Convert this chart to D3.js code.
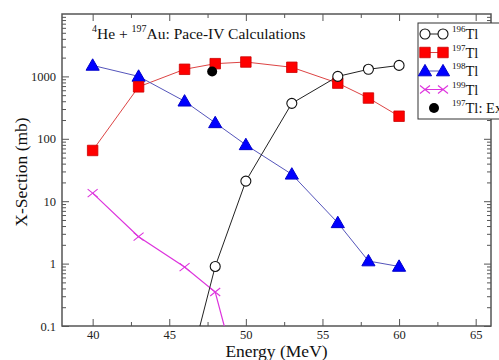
<!DOCTYPE html>
<html><head><meta charset="utf-8">
<script src="https://cdn.jsdelivr.net/npm/d3@7"></script>
<style>body{margin:0;background:#fff}svg{display:block}text{font-family:"Liberation Serif","DejaVu Serif",serif}</style>
</head><body><svg id="c" width="499" height="360"></svg>
<script>
const energies = [40, 43, 46, 48, 50, 53, 56, 58, 60];
const tl196E = [46, 48, 50, 53, 56, 58, 60];
const tl196 = [0.011, 0.9, 21, 370, 1000, 1300, 1500];
const tl197 = [65, 680, 1300, 1600, 1700, 1400, 780, 450, 230];
const tl198 = [1500, 1000, 400, 180, 80, 27, 4.5, 1.1, 0.9];
const tl199E = [40, 43, 46, 48, 50];
const tl199 = [13.5, 2.7, 0.88, 0.35, 0.005];
const expE = [47.8];
const exp197 = [1200];
const xTicks = [40, 45, 50, 55, 60, 65];
const yTicks = [0.1, 1, 10, 100, 1000];

const svg = d3.select("#c");
const L = 62, R = 491, T = 14, B = 326;
const x = d3.scaleLinear().domain([38, 66]).range([L, R]);
const y = d3.scaleLog().domain([0.1, 10000]).range([B, T]);
const axisCol = "#555";
const serif = "Liberation Serif, DejaVu Serif, serif";

svg.append("defs").append("clipPath").attr("id", "pc")
  .append("rect").attr("x", L).attr("y", T).attr("width", R - L).attr("height", B - T);

const minorX = [42.5, 47.5, 52.5, 57.5, 62.5];
const minorY = [];
for (let d = 0.1; d < 10000; d *= 10) for (let k = 2; k <= 9; k++) minorY.push(+(d * k).toPrecision(3));

const g = svg.append("g");
g.append("g").attr("transform", `translate(0,${B})`)
  .call(d3.axisBottom(x).tickValues(xTicks).tickSize(-7).tickPadding(4).tickFormat(d3.format("d")));
g.append("g").attr("transform", `translate(0,${T})`)
  .call(d3.axisTop(x).tickValues(xTicks).tickSize(-7).tickFormat(""));
g.append("g").attr("transform", `translate(0,${B})`).call(d3.axisBottom(x).tickValues(minorX).tickSize(-4).tickFormat(""));
g.append("g").attr("transform", `translate(0,${T})`).call(d3.axisTop(x).tickValues(minorX).tickSize(-4).tickFormat(""));
g.append("g").attr("transform", `translate(${L},0)`)
  .call(d3.axisLeft(y).tickValues(yTicks).tickSize(-7).tickPadding(6).tickFormat(d => String(d)));
g.append("g").attr("transform", `translate(${R},0)`).call(d3.axisRight(y).tickValues(yTicks).tickSize(-7).tickFormat(""));
g.append("g").attr("transform", `translate(${L},0)`).call(d3.axisLeft(y).tickValues(minorY).tickSize(-4).tickFormat(""));
g.append("g").attr("transform", `translate(${R},0)`).call(d3.axisRight(y).tickValues(minorY).tickSize(-4).tickFormat(""));
g.selectAll(".domain").remove();
g.selectAll("g").attr("font-family", serif).attr("font-size", 12.5);
g.selectAll("line").attr("stroke", axisCol).attr("stroke-width", 1);
g.selectAll("text").attr("fill", "#222");
svg.append("rect").attr("x", L).attr("y", T).attr("width", R - L).attr("height", B - T)
  .attr("fill", "none").attr("stroke", axisCol).attr("stroke-width", 1.5);

const plot = svg.append("g").attr("clip-path", "url(#pc)");
const line = d3.line().x(d => x(d[0])).y(d => y(d[1]));

const s196 = tl196E.map((e, i) => [e, tl196[i]]);
const s197 = energies.map((e, i) => [e, tl197[i]]);
const s198 = energies.map((e, i) => [e, tl198[i]]);
const s199 = tl199E.map((e, i) => [e, tl199[i]]);

plot.append("path").datum(s197).attr("d", line).attr("fill", "none").attr("stroke", "#d44").attr("stroke-width", 1);
plot.append("path").datum(s198).attr("d", line).attr("fill", "none").attr("stroke", "#55b").attr("stroke-width", 1);
plot.append("path").datum(s199).attr("d", line).attr("fill", "none").attr("stroke", "#d3d").attr("stroke-width", 1.2);
plot.append("path").datum(s196).attr("d", line).attr("fill", "none").attr("stroke", "#222").attr("stroke-width", 1);

const sqr = d3.symbol().type(d3.symbolSquare).size(110);
const tri = d3.symbol().type(d3.symbolTriangle).size(75);
function markers(sel, data, kind) {
  const m = sel.selectAll(null).data(data).join("g").attr("transform", d => `translate(${x(d[0])},${y(d[1])})`);
  drawMarker(m, kind);
}
function drawMarker(m, kind) {
  if (kind === "sq") m.append("path").attr("d", sqr).attr("fill", "#f00").attr("stroke", "#c00").attr("stroke-width", 0.8);
  if (kind === "tri") m.append("path").attr("d", tri).attr("transform", "translate(0,1)").attr("fill", "#00f").attr("stroke", "#00c");
  if (kind === "circ") m.append("circle").attr("r", 5).attr("fill", "#fff").attr("stroke", "#111").attr("stroke-width", 1.1);
  if (kind === "x") m.append("path").attr("d", "M-5,-4L5,4M-5,4L5,-4").attr("stroke", "#d3d").attr("stroke-width", 1.1);
  if (kind === "dot") m.append("circle").attr("r", 5).attr("fill", "#000");
}
markers(plot, s199, "x");
markers(plot, s198, "tri");
markers(plot, s197, "sq");
markers(plot, s196, "circ");
markers(plot, expE.map((e, i) => [e, exp197[i]]), "dot");

svg.append("text").attr("x", 92).attr("y", 39).style("font-size", "15.5px").attr("fill", "#111")
  .html('<tspan dy="-7" style="font-size:10px">4</tspan><tspan dy="7">He + </tspan><tspan dy="-7" style="font-size:10px">197</tspan><tspan dy="7">Au: Pace-IV Calculations</tspan>');

svg.append("text").attr("x", (L + R) / 2).attr("y", 357).attr("text-anchor", "middle")
  .style("font-size", "17.5px").attr("fill", "#111").text("Energy (MeV)");
svg.append("text").attr("transform", `translate(27,${(T + B) / 2 + 2}) rotate(-90)`).attr("text-anchor", "middle")
  .style("font-size", "17.5px").attr("fill", "#111").text("X-Section (mb)");

const leg = svg.append("g");
leg.append("rect").attr("x", 418).attr("y", 23).attr("width", 100).attr("height", 96)
  .attr("fill", "#fff").attr("stroke", "#333").attr("stroke-width", 1);
const legItems = [
  {mass: "196", name: "Tl", kind: "circ", col: "#222"},
  {mass: "197", name: "Tl", kind: "sq", col: "#d44"},
  {mass: "198", name: "Tl", kind: "tri", col: "#55b"},
  {mass: "199", name: "Tl", kind: "x", col: "#d3d"},
  {mass: "197", name: "Tl: Exp", kind: "dot", col: null}
];
legItems.forEach((it, i) => {
  const yy = 34 + i * 18.5;
  if (it.col) {
    leg.append("line").attr("x1", 425).attr("x2", 443).attr("y1", yy).attr("y2", yy).attr("stroke", it.col);
    drawMarker(leg.append("g").attr("transform", `translate(425,${yy})`), it.kind);
    drawMarker(leg.append("g").attr("transform", `translate(443,${yy})`), it.kind);
  } else {
    drawMarker(leg.append("g").attr("transform", `translate(434,${yy})`), it.kind);
  }
  leg.append("text").attr("x", 452).attr("y", yy + 5).style("font-size", "14.5px").attr("fill", "#111")
    .html(`<tspan dy="-7" style="font-size:9px">${it.mass}</tspan><tspan dy="7">${it.name}</tspan>`);
});
</script></body></html>
